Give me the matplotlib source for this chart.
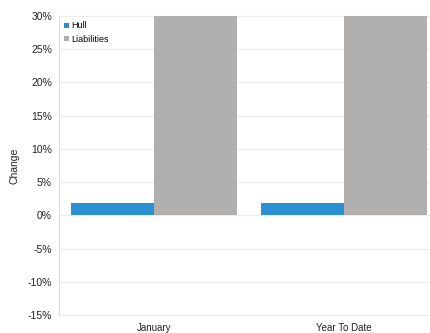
import numpy as np
import matplotlib.pyplot as plt
from matplotlib.ticker import FuncFormatter

plt.rcParams['font.family'] = ['Liberation Sans', 'DejaVu Sans']

categories = ['January', 'Year To Date']
hull = [1.8, 1.8]
liabilities = [38.0, 38.0]

fig = plt.figure(figsize=(4.3, 3.33), dpi=100)
# right edge runs past the figure, so the last bar sits on the border
ax = fig.add_axes([59 / 430, 1 - 315 / 333, 380 / 430, 299 / 333])

x = np.arange(len(categories))
w = 0.435
ax.bar(x - w / 2, hull, w, color='#2b8fd3', label='Hull', zorder=3)
ax.bar(x + w / 2, liabilities, w, color='#b2afaf', label='Liabilities', zorder=3)

ax.set_xlim(-0.5, 1.5)
ax.set_ylim(-15, 30)
ax.set_yticks(np.arange(-15, 31, 5))
ax.yaxis.set_major_formatter(FuncFormatter(lambda v, p: f'{v:.0f}%'))
ax.set_xticks(x)
ax.set_xticklabels(categories)

ax.grid(axis='y', color='#ececec', linewidth=0.8, zorder=0)
for line in ax.get_ygridlines():
    line.set_clip_on(False)
for s in ['top', 'right', 'bottom']:
    ax.spines[s].set_visible(False)
ax.spines['left'].set_color('#dcdcdc')
ax.spines['left'].set_linewidth(0.8)
ax.tick_params(axis='y', length=0, labelsize=7.5, pad=5, colors='#222222')
ax.tick_params(axis='x', length=0, labelsize=7, pad=6, colors='#222222')
ax.set_ylabel('Change', fontsize=7.5, color='#222222', labelpad=6)

ax.legend(loc='upper left', fontsize=6.5, frameon=False, handlelength=0.55,
          handleheight=0.55, handletextpad=0.25, labelspacing=0.5,
          borderaxespad=0.2, bbox_to_anchor=(0.0, 1.0))

fig.savefig('out.png', dpi=100)
